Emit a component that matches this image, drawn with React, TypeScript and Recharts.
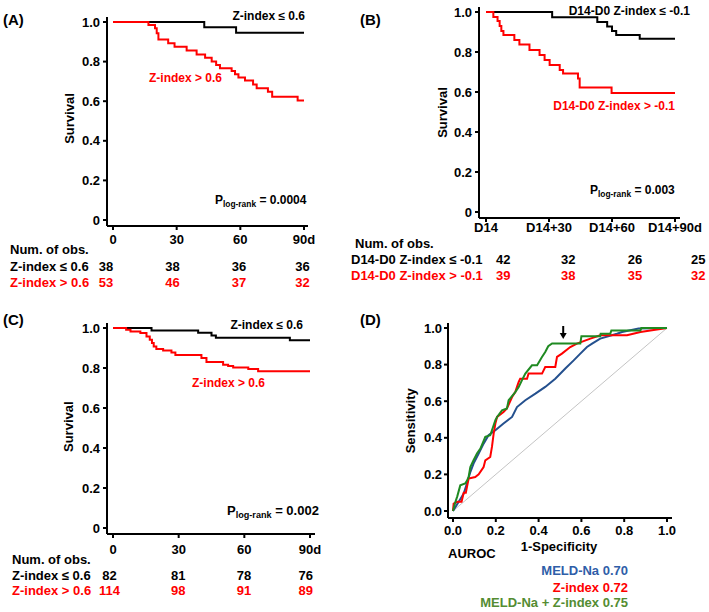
import React from 'react';
import { LineChart, Line, XAxis, YAxis, ReferenceDot } from 'recharts';

const FONT = '"Liberation Sans", Arial, Helvetica, sans-serif';

type Pt = [number, number];

// ---------- shared axes ----------
const kmTicks = [0, 30, 60, 90];
const survTicks = [0, 0.2, 0.4, 0.6, 0.8, 1.0];
const rocTicks = [0, 0.2, 0.4, 0.6, 0.8, 1.0];
const aTickLabels = ['0', '30', '60', '90d'];
const bTickLabels = ['D14', 'D14+30', 'D14+60', 'D14+90d'];
const cTickLabels = ['0', '30', '60', '90d'];

// ---------- Panel A ----------
const aLow: Pt[] = [[0, 1], [43, 0.973], [58, 0.946], [90, 0.946]];
const aHigh: Pt[] = [
  [0, 1], [16.7, 0.985], [19.8, 0.968], [20.6, 0.943], [21.4, 0.912], [26, 0.893],
  [29, 0.875], [34.7, 0.856], [39.4, 0.836], [43.4, 0.82], [46.5, 0.8], [48.6, 0.783],
  [50.4, 0.766], [55.9, 0.753], [57.5, 0.736], [59.1, 0.72], [62.2, 0.704], [66, 0.684],
  [67.7, 0.665], [73, 0.648], [75, 0.623], [87, 0.604], [90, 0.604],
];
const aRiskLow = [38, 38, 36, 36];
const aRiskHigh = [53, 46, 37, 32];

// ---------- Panel B ----------
const bLow: Pt[] = [
  [0, 1], [31.5, 0.974], [53, 0.95], [57.7, 0.928], [60, 0.905], [62, 0.885], [73.2, 0.866], [90, 0.866],
];
const bHigh: Pt[] = [
  [0, 1], [3.5, 0.975], [5.5, 0.955], [6.5, 0.93], [7.3, 0.905], [8.3, 0.885], [13.5, 0.86],
  [15.9, 0.838], [20.7, 0.81], [25.5, 0.785], [27.9, 0.76], [30.3, 0.735], [35.1, 0.71],
  [36.7, 0.693], [43.8, 0.668], [44.6, 0.623], [59.8, 0.595], [90, 0.595],
];
const bRiskLow = [42, 32, 26, 25];
const bRiskHigh = [39, 38, 35, 32];

// ---------- Panel C ----------
const cLow: Pt[] = [[0, 1], [17.6, 0.988], [38.9, 0.976], [45, 0.963], [47, 0.951], [80.8, 0.939], [90, 0.939]];
const cHigh: Pt[] = [
  [0, 1], [6, 0.991], [8, 0.983], [12.5, 0.975], [15.3, 0.958], [16.8, 0.941], [17.8, 0.925],
  [18.6, 0.908], [19.8, 0.895], [22.9, 0.888], [26.7, 0.878], [28.5, 0.865], [40.4, 0.85],
  [42.7, 0.83], [50.3, 0.816], [52.6, 0.81], [54.9, 0.803], [61.8, 0.795], [66.3, 0.784], [90, 0.784],
];
const cRiskLow = [82, 81, 78, 76];
const cRiskHigh = [114, 98, 91, 89];

// ---------- Panel D (ROC) ----------
const rocDiag: Pt[] = [[0, 0], [1, 1]];
const rocMeld: Pt[] = [
  [0, 0], [0.026, 0.049], [0.05, 0.095], [0.065, 0.15], [0.081, 0.213], [0.096, 0.259],
  [0.12, 0.314], [0.143, 0.368], [0.166, 0.414], [0.198, 0.441], [0.236, 0.478], [0.276, 0.514],
  [0.299, 0.568], [0.338, 0.605], [0.385, 0.641], [0.431, 0.678], [0.478, 0.723], [0.526, 0.78],
  [0.564, 0.823], [0.595, 0.86], [0.626, 0.896], [0.65, 0.915], [0.688, 0.942], [0.766, 0.969],
  [0.79, 0.978], [0.867, 0.997], [1, 1],
];
const rocZ: Pt[] = [
  [0, 0], [0.003, 0.04], [0.02, 0.05], [0.04, 0.05], [0.05, 0.1], [0.06, 0.1], [0.073, 0.177],
  [0.104, 0.186], [0.12, 0.2], [0.143, 0.24], [0.151, 0.277], [0.174, 0.295], [0.182, 0.35],
  [0.19, 0.423], [0.198, 0.478], [0.206, 0.514], [0.236, 0.541], [0.252, 0.56], [0.276, 0.623],
  [0.291, 0.65], [0.299, 0.678], [0.307, 0.705], [0.314, 0.723], [0.346, 0.723], [0.353, 0.751],
  [0.416, 0.751], [0.431, 0.787], [0.478, 0.787], [0.486, 0.842], [0.509, 0.86], [0.548, 0.896],
  [0.579, 0.915], [0.642, 0.942], [0.688, 0.96], [0.813, 0.96], [0.876, 0.978], [1, 1],
];
const rocCombo: Pt[] = [
  [0, 0], [0.011, 0.049], [0.02, 0.08], [0.034, 0.14], [0.057, 0.15], [0.065, 0.165],
  [0.073, 0.186], [0.081, 0.24], [0.096, 0.277], [0.112, 0.314], [0.128, 0.341], [0.151, 0.405],
  [0.174, 0.414], [0.182, 0.441], [0.198, 0.496], [0.206, 0.514], [0.229, 0.55], [0.252, 0.56],
  [0.26, 0.605], [0.291, 0.65], [0.307, 0.678], [0.322, 0.714], [0.338, 0.751], [0.369, 0.796],
  [0.393, 0.796], [0.415, 0.84], [0.431, 0.869], [0.445, 0.9], [0.463, 0.915], [0.595, 0.915],
  [0.6, 0.955], [0.688, 0.955], [0.69, 0.969], [0.735, 0.969], [0.74, 0.987], [0.876, 0.987],
  [0.88, 1], [1, 1],
];
const aurocLabels = ['MELD-Na 0.70', 'Z-index 0.72', 'MELD-Na + Z-index 0.75'];
const arrowAt: Pt = [0.515, 0.94];

const toData = (pts: Pt[]) => pts.map(([x, y]) => ({ x, y }));

const tickStyle = { fill: '#000', fontSize: 13, fontWeight: 700, fontFamily: FONT };
const axisStyle = { stroke: '#000', strokeWidth: 2 };

const RED = '#ff0000';
const BLUE_LINE = '#24508e';
const GREEN_LINE = '#1f8a22';
const BLUE_TEXT = '#2f5ea8';
const GREEN_TEXT = '#548c32';

function KMPanel(props: any) {
  const { left, top, width, height, margin, xPad, yPad, yWidth, low, high, tickLabels, xTickMargin } = props;
  return (
    <div style={{ position: 'absolute', left, top, width, height }}>
      <LineChart width={width} height={height} margin={margin}>
        <XAxis
          type="number"
          dataKey="x"
          domain={[0, 90]}
          ticks={kmTicks}
          interval={0}
          tickFormatter={(v: number) => tickLabels[kmTicks.indexOf(v)]}
          padding={xPad}
          axisLine={axisStyle}
          tickLine={axisStyle}
          tickSize={4}
          tickMargin={xTickMargin}
          tick={tickStyle}
          height={30}
        />
        <YAxis
          type="number"
          dataKey="y"
          domain={[0, 1]}
          ticks={survTicks}
          interval={0}
          tickFormatter={(v: number) => (v === 0 ? '0' : v.toFixed(1))}
          padding={yPad}
          width={yWidth}
          axisLine={axisStyle}
          tickLine={axisStyle}
          tickSize={4}
          tickMargin={3}
          tick={tickStyle}
        />
        <Line data={toData(low)} dataKey="y" type="stepAfter" stroke="#000" strokeWidth={2}
          dot={false} activeDot={false} isAnimationActive={false} />
        <Line data={toData(high)} dataKey="y" type="stepAfter" stroke={RED} strokeWidth={2}
          dot={false} activeDot={false} isAnimationActive={false} />
      </LineChart>
    </div>
  );
}

const ArrowShape = (p: any) => {
  const { cx, cy } = p;
  if (cx == null || cy == null) return null;
  return (
    <g>
      <line x1={cx} y1={cy - 13} x2={cx} y2={cy - 5} stroke="#000" strokeWidth={2} />
      <path d={`M${cx - 3.5},${cy - 6} L${cx + 3.5},${cy - 6} L${cx},${cy} Z`} fill="#000" />
    </g>
  );
};

function ROCPanel() {
  return (
    <div style={{ position: 'absolute', left: 350, top: 300, width: 359, height: 312 }}>
      <LineChart width={359} height={312} margin={{ top: 23, right: 37, bottom: 64, left: 0 }}>
        <XAxis
          type="number"
          dataKey="x"
          domain={[0, 1]}
          ticks={rocTicks}
          interval={0}
          tickFormatter={(v: number) => v.toFixed(1)}
          padding={{ left: 5, right: 5 }}
          axisLine={axisStyle}
          tickLine={axisStyle}
          tickSize={4}
          tickMargin={4}
          tick={tickStyle}
          height={30}
        />
        <YAxis
          type="number"
          dataKey="y"
          domain={[0, 1]}
          ticks={rocTicks}
          interval={0}
          tickFormatter={(v: number) => v.toFixed(1)}
          padding={{ top: 5, bottom: 7 }}
          width={98}
          axisLine={axisStyle}
          tickLine={axisStyle}
          tickSize={4}
          tickMargin={2}
          tick={tickStyle}
        />
        <Line data={toData(rocDiag)} dataKey="y" type="linear" stroke="#c4c4c4" strokeWidth={1}
          dot={false} activeDot={false} isAnimationActive={false} />
        <Line data={toData(rocMeld)} dataKey="y" type="linear" stroke={BLUE_LINE} strokeWidth={2}
          dot={false} activeDot={false} isAnimationActive={false} />
        <Line data={toData(rocZ)} dataKey="y" type="linear" stroke={RED} strokeWidth={2}
          dot={false} activeDot={false} isAnimationActive={false} />
        <Line data={toData(rocCombo)} dataKey="y" type="linear" stroke={GREEN_LINE} strokeWidth={2}
          dot={false} activeDot={false} isAnimationActive={false} />
        <ReferenceDot x={arrowAt[0]} y={arrowAt[1]} r={0} shape={ArrowShape} ifOverflow="visible" />
      </LineChart>
    </div>
  );
}

const T = (p: any) => {
  const { x, y, size = 13, color = '#000', anchor = 'start', children, rotate } = p;
  return (
    <text
      x={x}
      y={y}
      fill={color}
      fontSize={size}
      fontWeight={700}
      fontFamily={FONT}
      textAnchor={anchor}
      transform={rotate ? `rotate(-90, ${x}, ${y})` : undefined}
    >
      {children}
    </text>
  );
};

const PVal = ({ x, y, size, value }: any) => (
  <text x={x} y={y} fill="#000" fontSize={size} fontWeight={700} fontFamily={FONT} xmlSpace="preserve">
    P
    <tspan fontSize={size * 0.7} dy={3}>log-rank</tspan>
    <tspan dy={-3}>{' = ' + value}</tspan>
  </text>
);

const RiskRow = ({ label, values, xs, y, color, labelX }: any) => (
  <g>
    <T x={labelX} y={y} color={color}>{label}</T>
    {values.map((v: number, i: number) => (
      <T key={i} x={xs[i]} y={y} color={color} anchor="middle">{String(v)}</T>
    ))}
  </g>
);

export default function App() {
  const aXs = [106, 172.5, 239, 302.5];
  const bXs = [503.3, 568.3, 635, 698.3];
  const cXs = [109.5, 178.3, 244, 305.8];
  return (
    <div style={{ position: 'absolute', left: 0, top: 0, width: 709, height: 612, background: '#fff', fontFamily: FONT }}>
      <KMPanel left={0} top={0} width={354} height={300}
        margin={{ top: 17, right: 46, bottom: 44, left: 0 }}
        xPad={{ left: 6, right: 4 }} yPad={{ top: 5, bottom: 6 }} yWidth={107}
        low={aLow} high={aHigh} tickLabels={aTickLabels} xTickMargin={5} />
      <KMPanel left={350} top={0} width={359} height={300}
        margin={{ top: 7, right: 29, bottom: 52, left: 0 }}
        xPad={{ left: 7, right: 5 }} yPad={{ top: 5, bottom: 6 }} yWidth={129}
        low={bLow} high={bHigh} tickLabels={bTickLabels} xTickMargin={1} />
      <KMPanel left={0} top={300} width={354} height={312}
        margin={{ top: 23, right: 39, bottom: 48, left: 0 }}
        xPad={{ left: 6, right: 5 }} yPad={{ top: 5, bottom: 6 }} yWidth={107}
        low={cLow} high={cHigh} tickLabels={cTickLabels} xTickMargin={7} />
      <ROCPanel />

      <svg width={709} height={612} style={{ position: 'absolute', left: 0, top: 0, pointerEvents: 'none' }}>
        {/* Panel A */}
        <T x={3} y={25} size={15}>(A)</T>
        <T x={74} y={118.5} rotate anchor="middle">Survival</T>
        <T x={305} y={20} size={12} anchor="end">Z-index ≤ 0.6</T>
        <T x={149} y={81.7} size={12} color={RED}>Z-index &gt; 0.6</T>
        <PVal x={215} y={203.5} size={12} value="0.0004" />
        <T x={10} y={254}>Num. of obs.</T>
        <RiskRow label="Z-index ≤ 0.6" values={aRiskLow} xs={aXs} y={270.5} color="#000" labelX={10} />
        <RiskRow label="Z-index > 0.6" values={aRiskHigh} xs={aXs} y={286.5} color={RED} labelX={10} />

        {/* Panel B */}
        <T x={360} y={24.7} size={15}>(B)</T>
        <T x={446.5} y={112.5} rotate anchor="middle">Survival</T>
        <T x={690} y={14.5} size={12} anchor="end">D14-D0 Z-index ≤ -0.1</T>
        <T x={675} y={110} size={12} anchor="end" color={RED}>D14-D0 Z-index &gt; -0.1</T>
        <PVal x={590} y={193.5} size={12} value="0.003" />
        <T x={355} y={248}>Num. of obs.</T>
        <RiskRow label="D14-D0 Z-index ≤ -0.1" values={bRiskLow} xs={bXs} y={264} color="#000" labelX={351} />
        <RiskRow label="D14-D0 Z-index > -0.1" values={bRiskHigh} xs={bXs} y={280} color={RED} labelX={351} />

        {/* Panel C */}
        <T x={3} y={324.8} size={15}>(C)</T>
        <T x={73} y={426.7} rotate anchor="middle">Survival</T>
        <T x={303} y={329} size={12} anchor="end">Z-index ≤ 0.6</T>
        <T x={192} y={387} size={12} color={RED}>Z-index &gt; 0.6</T>
        <PVal x={227} y={515} size={13} value="0.002" />
        <T x={12} y={563.5}>Num. of obs.</T>
        <RiskRow label="Z-index ≤ 0.6" values={cRiskLow} xs={cXs} y={579.5} color="#000" labelX={12} />
        <RiskRow label="Z-index > 0.6" values={cRiskHigh} xs={cXs} y={595} color={RED} labelX={12} />

        {/* Panel D */}
        <T x={360} y={324.8} size={15}>(D)</T>
        <T x={415.5} y={420.8} rotate anchor="middle">Sensitivity</T>
        <T x={559} y={551} anchor="middle">1-Specificity</T>
        <T x={448} y={558}>AUROC</T>
        <T x={628} y={575} anchor="end" color={BLUE_TEXT}>{aurocLabels[0]}</T>
        <T x={628} y={591.5} anchor="end" color={RED}>{aurocLabels[1]}</T>
        <T x={628} y={606.5} anchor="end" color={GREEN_TEXT}>{aurocLabels[2]}</T>
      </svg>
    </div>
  );
}
